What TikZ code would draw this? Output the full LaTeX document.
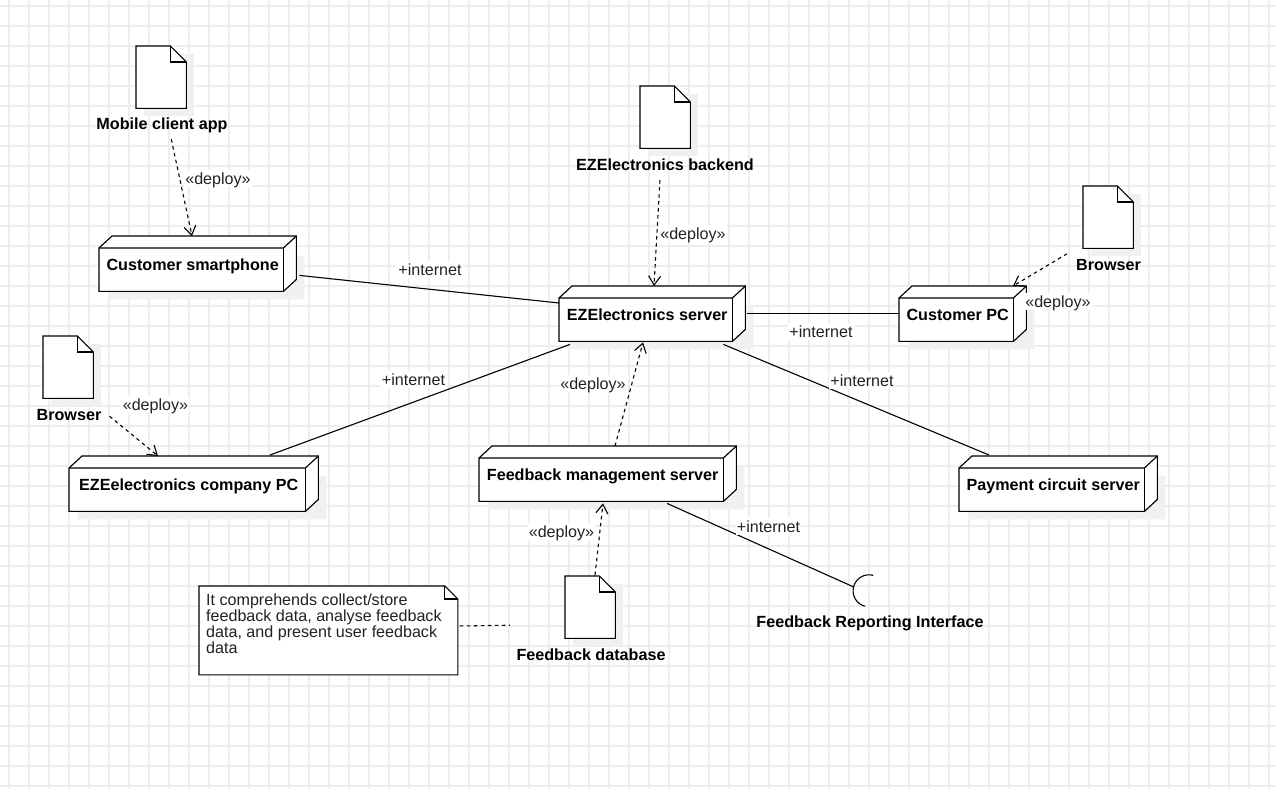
\documentclass[tikz,border=0pt]{standalone}
\usepackage{fontspec}
\setmainfont{Liberation Sans}
\usetikzlibrary{calc,arrows.meta,positioning}
\definecolor{gridc}{HTML}{EEEEEE}
\definecolor{shadowc}{HTML}{F0F0F0}
\definecolor{inkc}{HTML}{000000}
\definecolor{labelc}{HTML}{222222}
\tikzset{
  boldtext/.style={font=\fontsize{16.15}{19}\selectfont\bfseries,text height=14pt,text depth=1pt},
  cubebox/.style={inner sep=0pt,minimum height=55pt,boldtext},
  filebox/.style={inner sep=0pt,minimum width=50pt,minimum height=62pt},
  caption/.style={inner sep=0pt,boldtext,text=black},
  linklabel/.style={inner sep=1pt,fill=white,font=\fontsize{16.1}{19}\selectfont,text=labelc,text height=13.5pt,text depth=1.5pt},
  outline/.style={draw=inkc,line width=1.15pt,line join=miter},
  link/.style={draw=inkc,line width=1.1pt},
  deploy/.style={draw=inkc,line width=1.1pt,dash pattern=on 3.5pt off 3.5pt,
    -{Straight Barb[length=9pt,width=12pt,line width=1.1pt]}},
  notelink/.style={draw=inkc,line width=1.1pt,dash pattern=on 3.5pt off 3.5pt},
}
\newcommand{\cubenode}[5]{% name, x, y, width, label
  \node[cubebox,minimum width=#4pt,anchor=north west] (#1) at (#2,#3) {};
  \fill[shadowc] ($(#1.north west)+(20,20)$) -- ($(#1.north east)+(8,20)$) -- ($(#1.south east)+(8,8)$) -- ($(#1.south west)+(8,8)$) -- cycle;
  \path[outline,fill=white] ($(#1.north west)+(0,12)$) -- ($(#1.north west)+(13,0)$) -- (#1.north east) -- ($(#1.south east)+(0,-12)$) -- ($(#1.south east)+(-13,0)$) -- (#1.south west) -- cycle;
  \path[outline] ($(#1.north west)+(0,12)$) -- ($(#1.north east)+(-13,12)$) -- (#1.north east);
  \path[outline] ($(#1.north east)+(-13,12)$) -- ($(#1.south east)+(-13,0)$);
  \node[cubebox,minimum width=#4pt,anchor=north west] at (#2,#3) {#5\hspace*{10pt}};
}
\newcommand{\filenode}[3]{% name, x, y
  \node[filebox,anchor=north west] (#1) at (#2,#3) {};
  \fill[shadowc] ($(#1.north west)+(8,8)$) -- ($(#1.north east)+(8,8)$) -- ($(#1.south east)+(8,8)$) -- ($(#1.south west)+(8,8)$) -- cycle;
  \path[outline,fill=white] (#1.north west) -- ($(#1.north east)+(-16,0)$) -- ($(#1.north east)+(0,16)$) -- (#1.south east) -- (#1.south west) -- cycle;
  \path[outline] ($(#1.north east)+(-16,0)$) -- ($(#1.north east)+(-16,16)$) -- ($(#1.north east)+(0,16)$);
}
\begin{document}
\begin{tikzpicture}[x=1pt,y=-1pt]
\useasboundingbox (0,0) rectangle (1276,789);
\fill[white] (0,0) rectangle (1276,789);
\foreach \gx in {9,29,...,1269} \draw[gridc,line width=1.9pt] (\gx,0) -- (\gx,789);
\foreach \gy in {6,26,...,786} \draw[gridc,line width=1.9pt] (0,\gy) -- (1276,\gy);

% files
\filenode{mobilefile}{136}{46}
\filenode{backendfile}{640}{86}
\filenode{browserfileb}{1083}{186}
\filenode{browserfilea}{43}{336}
\filenode{dbfile}{565}{576}

% cubes
\cubenode{smartphone}{99}{236}{197}{Customer smartphone}
\cubenode{server}{559}{286}{186}{EZElectronics server}
\cubenode{customerpc}{899}{286}{127}{Customer PC}
\cubenode{companypc}{69}{456}{249}{EZEelectronics company PC}
\cubenode{mgmt}{479}{446}{257}{Feedback management server}
\cubenode{payment}{959}{456}{198}{Payment circuit server}

% captions
\node[caption] (mobilecap) at (162,123.5) {Mobile client app};
\node[caption] (backendcap) at (665,163.5) {EZElectronics backend};
\node[caption] (browsercapb) at (1108.5,263.5) {Browser};
\node[caption] (browsercapa) at (69,413.5) {Browser};
\node[caption] (dbcap) at (591,653.5) {Feedback database};
\node[caption] (ifacecap) at (870,620.5) {Feedback Reporting Interface};

% note
\node[inner sep=0pt,minimum width=258.5pt,minimum height=88.5pt,anchor=north west] (note) at (199,586) {};
\path[outline,fill=white] (note.north west) -- ($(note.north east)+(-13,0)$) -- ($(note.north east)+(0,13)$) -- (note.south east) -- (note.south west) -- cycle;
\path[outline] ($(note.north east)+(-13,0)$) -- ($(note.north east)+(-13,13)$) -- ($(note.north east)+(0,13)$);
\node[anchor=north west,inner sep=0pt,align=left,text=labelc,font=\fontsize{16.1}{16}\selectfont] (notetext) at (206,594)
  {It comprehends collect/store\\feedback data, analyse feedback\\data, and present user feedback\\data};

% interface
\node[circle,inner sep=0pt,minimum size=32pt] (iface) at (869,591) {};
\draw[inkc,line width=1.1pt] (iface.75) arc[start angle=75,end angle=255,radius=16pt];

% solid links
\draw[link] ($(smartphone.south east)+(3,-16)$) -- ($(server.north west)+(0,17)$);
\draw[link] ($(server.north east)+(2,27.5)$) -- ($(customerpc.north west)+(0,27.5)$);
\draw[link] ($(server.south west)+(11,3)$) -- ($(companypc.north west)+(201,-1)$);
\draw[link] ($(server.south east)+(-22,3)$) -- ($(payment.north west)+(30,-1)$);
\draw[link] ($(mgmt.south west)+(188,2)$) -- (iface.165);

% deploy links
\draw[deploy] ($(mobilecap.south west)+(75,8)$) -- ($(smartphone.north west)+(93,0)$);
\draw[deploy] ($(backendcap.south west)+(84,9)$) -- ($(server.north west)+(95,0)$);
\draw[deploy] ($(browsercapb.north west)+(-9,-2)$) -- ($(customerpc.north west)+(114,0)$);
\draw[deploy] ($(browsercapa.south east)+(8,-5)$) -- ($(companypc.north west)+(89,0)$);
\draw[deploy] ($(mgmt.north west)+(136,0)$) -- ($(server.south west)+(84,1)$);
\draw[deploy] ($(dbfile.north west)+(30,-1)$) -- ($(mgmt.south west)+(124,2)$);
\draw[notelink] ($(note.east)+(2,-4.5)$) -- ($(dbfile.west)+(-55,18)$);

% link labels
\node[linklabel] (d1) at (218,178) {«deploy»};
\node[linklabel] (d2) at (693,233) {«deploy»};
\node[linklabel] (d3) at (1058,301) {«deploy»};
\node[linklabel] (d4) at (155.5,404) {«deploy»};
\node[linklabel] (d5) at (593,383) {«deploy»};
\node[linklabel] (d6) at (561.5,531) {«deploy»};
\node[linklabel] (i1) at (430,269) {+internet};
\node[linklabel] (i2) at (821,331) {+internet};
\node[linklabel] (i3) at (413.5,379) {+internet};
\node[linklabel] (i4) at (862,380) {+internet};
\node[linklabel] (i5) at (768.5,526) {+internet};
\end{tikzpicture}
\end{document}
